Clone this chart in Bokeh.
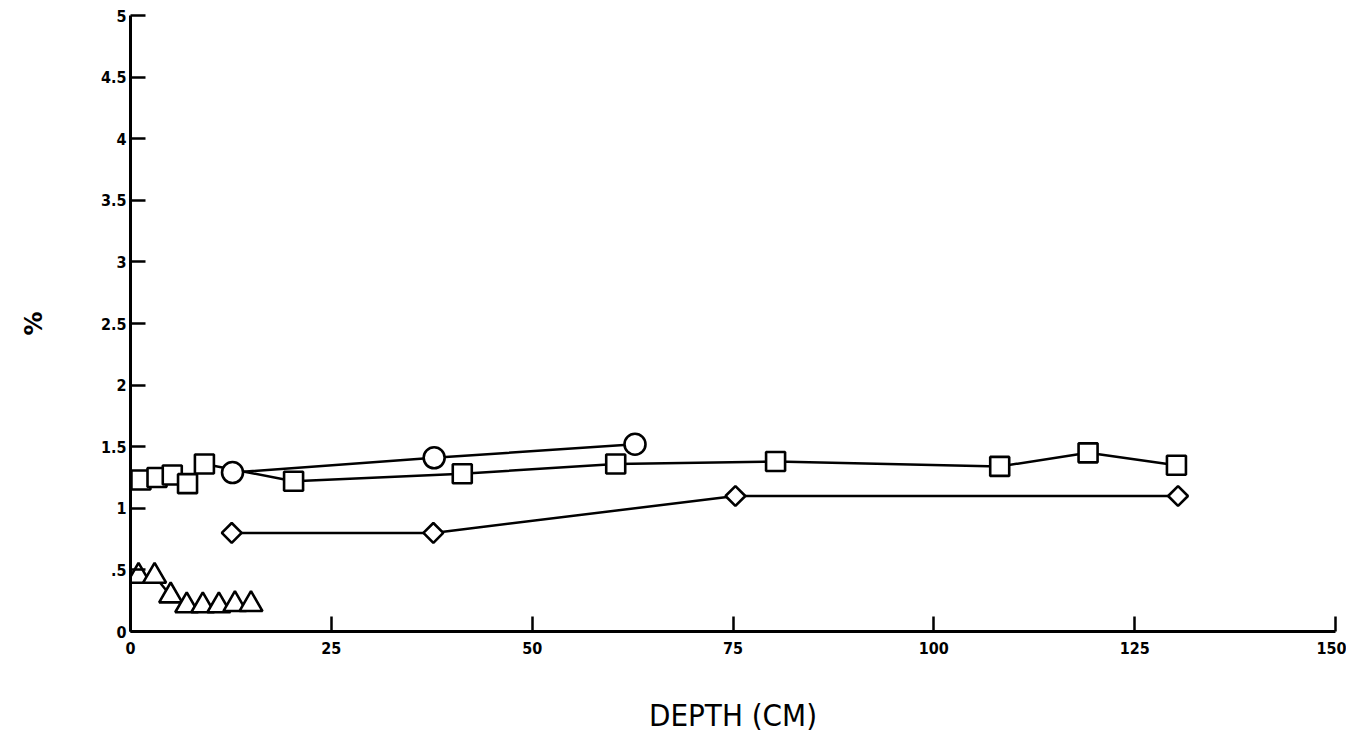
import numpy as np
from bokeh.plotting import figure
from bokeh.models import Range1d, FixedTicker
from bokeh.embed import file_html
from bokeh.resources import INLINE

# ---- data (corrected for the scan's tilt) ----
square_depth = [1.3, 3.3, 5.2, 7.1, 9.2, 20.3, 41.3, 60.4, 80.3, 108.2, 119.2, 130.2]
square_pct = [1.23, 1.25, 1.27, 1.20, 1.36, 1.22, 1.28, 1.36, 1.38, 1.34, 1.45, 1.35]

circle_depth = [12.7, 37.8, 62.8]
circle_pct = [1.29, 1.41, 1.52]

diamond_depth = [12.6, 37.7, 75.3, 130.4]
diamond_pct = [0.80, 0.80, 1.10, 1.10]

triangle_depth = [1, 3, 5, 7, 9, 11, 13, 15]
triangle_pct = [0.45, 0.45, 0.29, 0.21, 0.21, 0.21, 0.22, 0.22]

x_ticks = [0, 25, 50, 75, 100, 125, 150]
y_ticks = [0, 0.5, 1, 1.5, 2, 2.5, 3, 3.5, 4, 4.5, 5]
y_labels = {0: "0", 0.5: ".5", 1: "1", 1.5: "1.5", 2: "2", 2.5: "2.5",
            3: "3", 3.5: "3.5", 4: "4", 4.5: "4.5", 5: "5"}

p = figure(width=1346, height=735, x_range=Range1d(0, 150), y_range=Range1d(0, 5),
           output_backend="svg", toolbar_location=None,
           min_border_left=130, min_border_right=11, min_border_top=15, min_border_bottom=100)
p.outline_line_color = None
p.grid.visible = False
p.background_fill_color = "white"

# axes styling
for ax in (p.xaxis[0], p.yaxis[0]):
    ax.axis_line_width = 3
    ax.axis_line_color = "black"
    ax.major_tick_in = 15
    ax.major_tick_out = 0
    ax.major_tick_line_width = 2.5
    ax.major_tick_line_color = "black"
    ax.minor_tick_line_color = None
    ax.major_label_text_font = "DejaVu Sans Condensed"
    ax.major_label_text_font_style = "bold"
    ax.major_label_text_font_size = "16px"
    ax.major_label_text_color = "black"

p.xaxis.ticker = FixedTicker(ticks=x_ticks)
p.yaxis.ticker = FixedTicker(ticks=y_ticks)
p.yaxis.major_label_overrides = y_labels
p.xaxis.major_label_standoff = 10
p.yaxis.major_label_standoff = 4

p.xaxis.axis_label = "DEPTH (CM)"
p.xaxis.axis_label_text_font = "DejaVu Sans Condensed"
p.xaxis.axis_label_text_font_style = "normal"
p.xaxis.axis_label_text_font_size = "31px"
p.xaxis.axis_label_text_color = "black"
p.xaxis.axis_label_standoff = 40

p.yaxis.axis_label = "%"
p.yaxis.axis_label_text_font = "DejaVu Sans"
p.yaxis.axis_label_text_font_style = "bold"
p.yaxis.axis_label_text_font_size = "24px"
p.yaxis.axis_label_text_color = "black"
p.yaxis.axis_label_standoff = 50

lw = 2.5
mlw = 2.6
# series
p.line(square_depth, square_pct, line_color="black", line_width=lw)
p.scatter(square_depth, square_pct, marker="square", size=19, fill_color="white",
          line_color="black", line_width=mlw)

p.line(circle_depth, circle_pct, line_color="black", line_width=lw)
p.scatter(circle_depth, circle_pct, marker="circle", size=21, fill_color="white",
          line_color="black", line_width=mlw)

p.line(diamond_depth, diamond_pct, line_color="black", line_width=lw)
p.scatter(diamond_depth, diamond_pct, marker="square", angle=np.pi / 4, size=14,
          fill_color="white", line_color="black", line_width=mlw)

p.line(triangle_depth, triangle_pct, line_color="black", line_width=lw)
p.scatter(triangle_depth, triangle_pct, marker="triangle", size=23, fill_color="white",
          line_color="black", line_width=mlw)

open("out.html", "w").write(file_html(p, INLINE))
